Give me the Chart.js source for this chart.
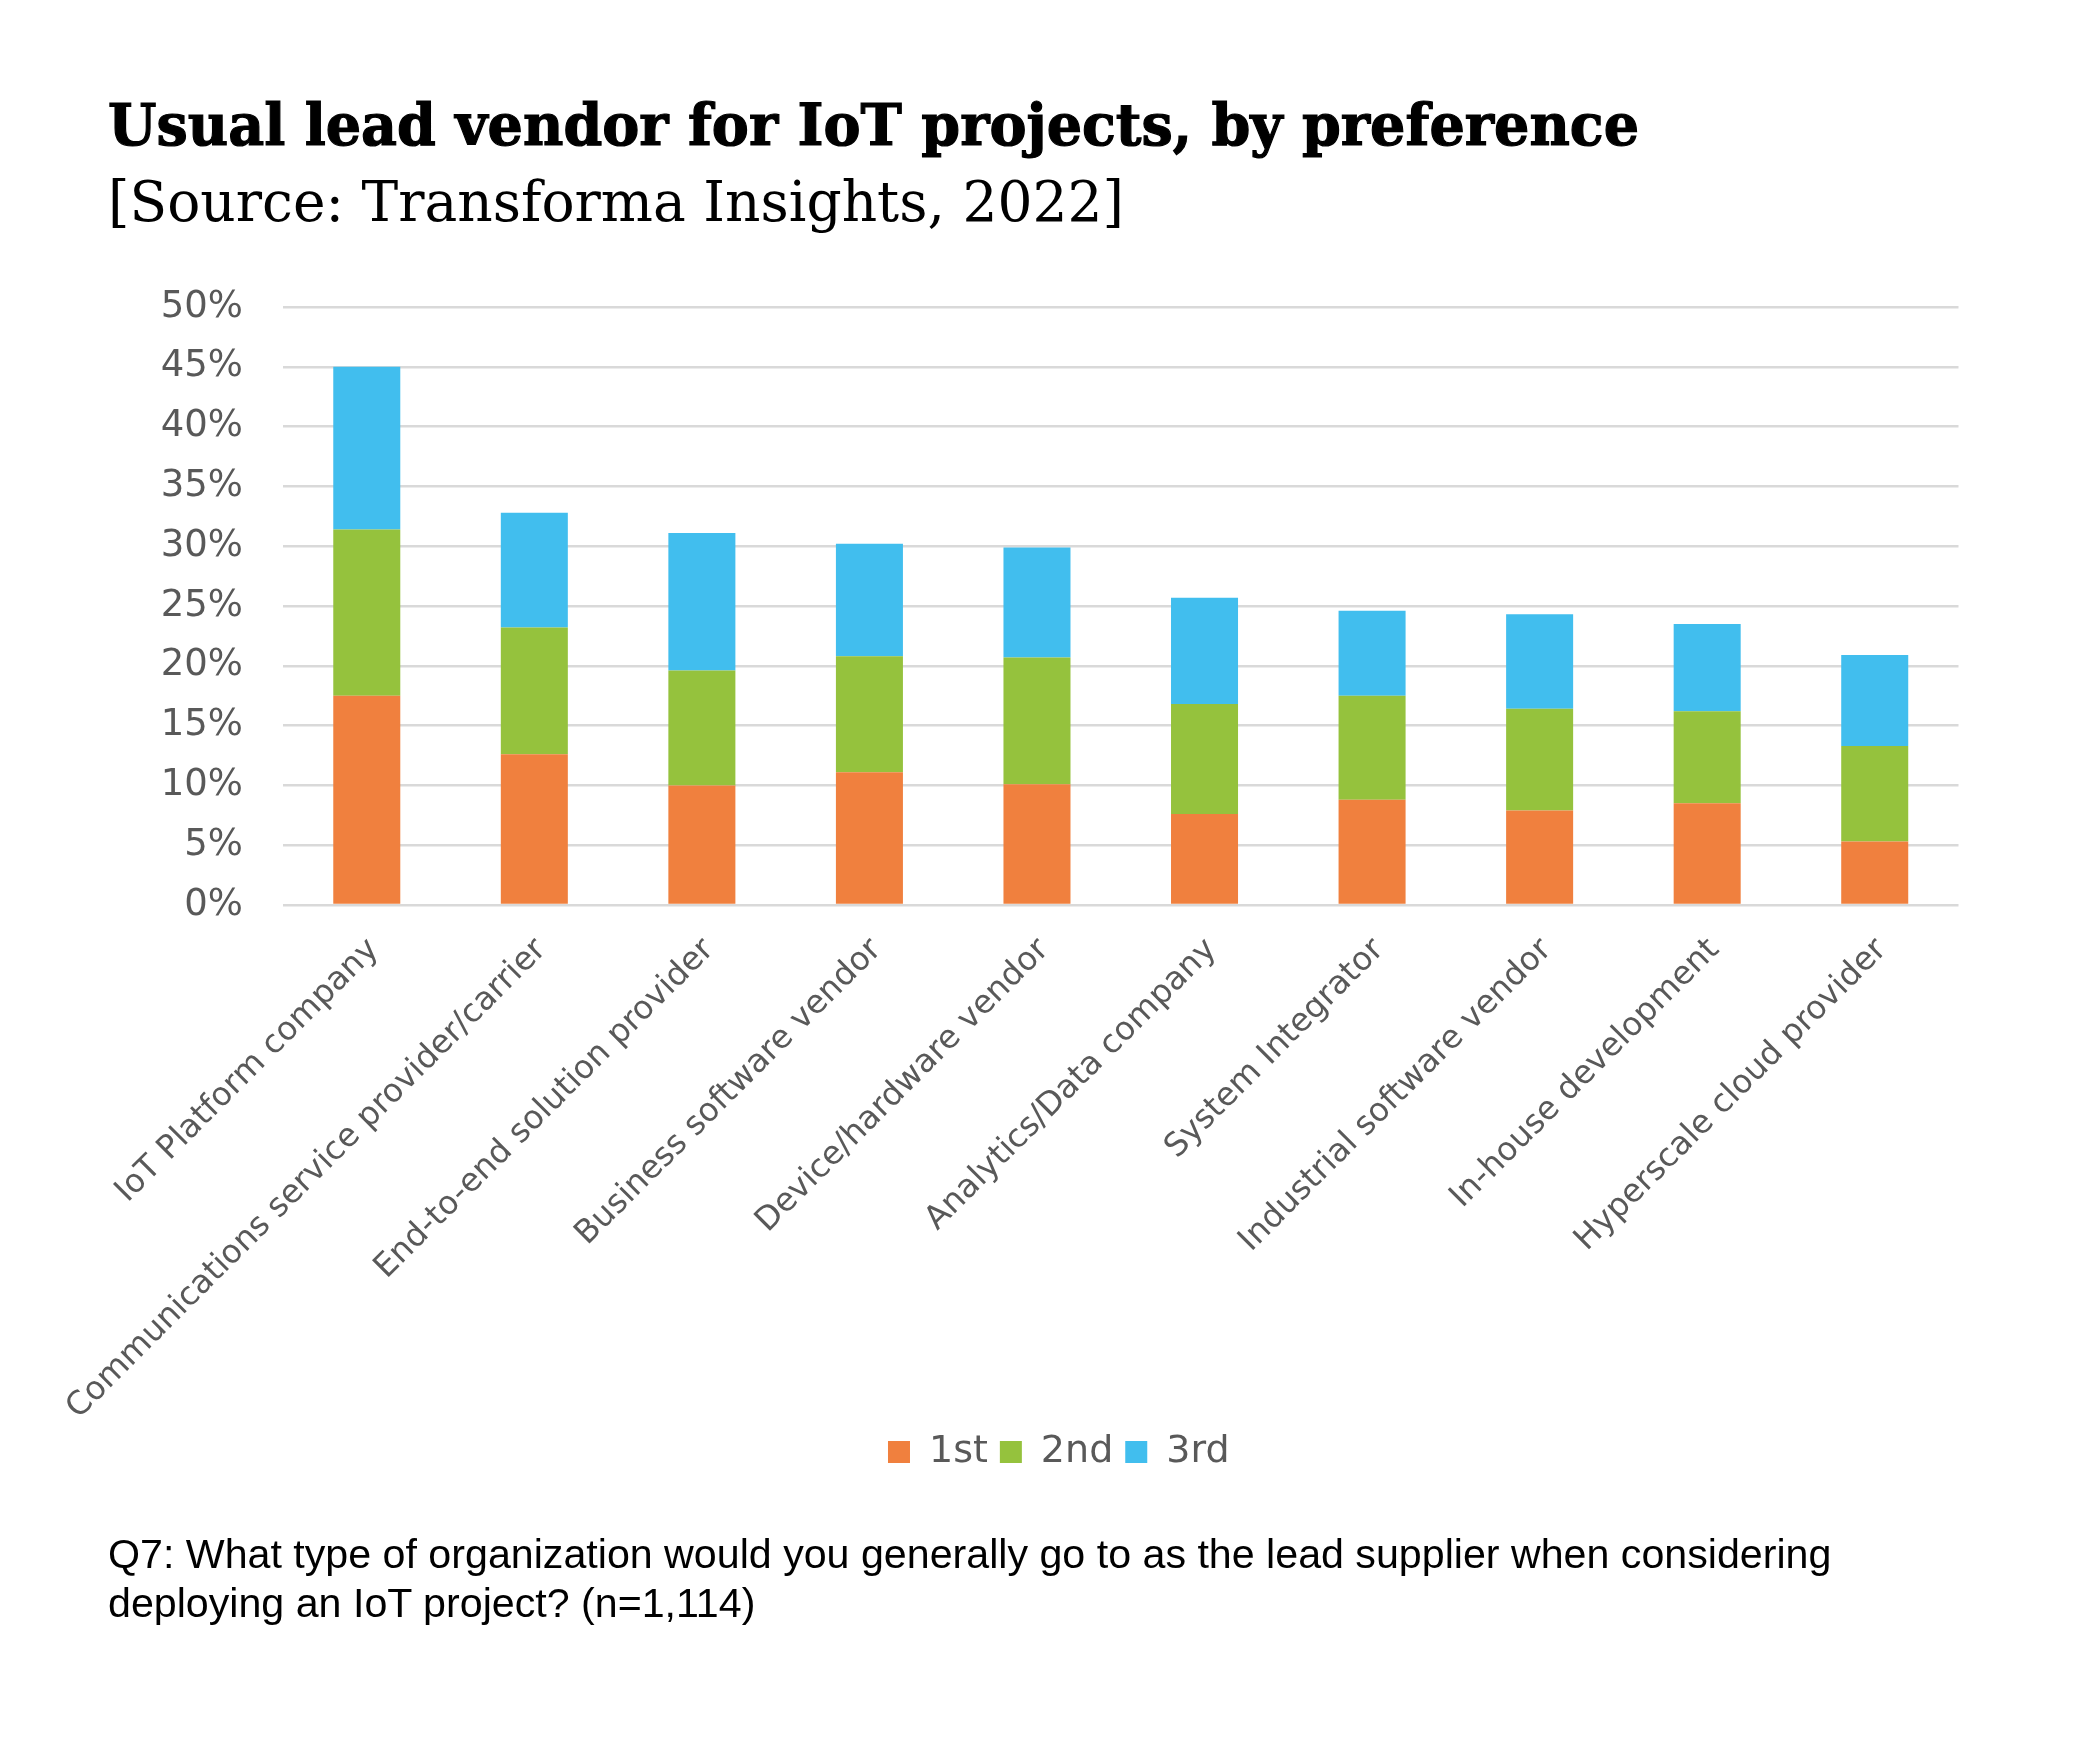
<!DOCTYPE html>
<html><head><meta charset="utf-8">
<script src="https://cdn.jsdelivr.net/npm/chart.js@4/dist/chart.umd.min.js"></script>
<style>
html,body{margin:0;padding:0;background:#fff;}
body{width:2076px;height:1738px;position:relative;overflow:hidden;}
#wrap{position:absolute;left:0;top:0;width:2076px;height:1738px;}
.txt{position:absolute;white-space:nowrap;transform-origin:0 0;display:inline-block;}
#title{left:108px;top:96px;font-family:"DejaVu Serif";font-weight:bold;font-size:58px;line-height:58px;color:#000;-webkit-text-stroke:1.2px #000;}
#subtitle{left:108px;top:174px;font-family:"DejaVu Serif";font-size:56px;line-height:56px;color:#000;}
.note{left:108px;font-family:"Liberation Sans",Arial;font-size:38px;line-height:49px;color:#000;}
#note1{top:1530px;}
#note2{top:1579px;}
</style></head><body>
<div id="wrap"><canvas id="c" width="2076" height="1738"></canvas></div>
<div class="txt" id="title">Usual lead vendor for IoT projects, by preference</div>
<div class="txt" id="subtitle">[Source: Transforma Insights, 2022]</div>
<div class="txt note" id="note1">Q7: What type of organization would you generally go to as the lead supplier when considering</div>
<div class="txt note" id="note2">deploying an IoT project? (n=1,114)</div>
<script>
const categories = ["IoT Platform company","Communications service provider/carrier","End-to-end solution provider","Business software vendor","Device/hardware vendor","Analytics/Data company","System Integrator","Industrial software vendor","In-house development","Hyperscale cloud provider"];
const seriesNames = ["1st","2nd","3rd"];
const first  = [17.5, 12.6, 10.0, 11.1, 10.1, 7.6, 8.8, 7.9, 8.5, 5.3];
const second = [13.9, 10.6,  9.6,  9.7, 10.6, 9.2, 8.7, 8.5, 7.7, 8.0];
const third  = [13.6,  9.6, 11.5,  9.4,  9.2, 8.9, 7.1, 7.9, 7.3, 7.6];
const yTickLabels = ["0%","5%","10%","15%","20%","25%","30%","35%","40%","45%","50%"];
const colors = ["#F0803E","#95C23D","#41BEEE"];

// fit text widths to the reference
function fitScale(id, target){
  const el=document.getElementById(id);
  const w=el.getBoundingClientRect().width;
  el.style.transform='scaleX('+(target/w)+')';
}
fitScale('title',1531);
fitScale('subtitle',1016);
(function(){
  const n1=document.getElementById('note1');
  const w=n1.getBoundingClientRect().width;
  const fs=38*1724/w;
  document.querySelectorAll('.note').forEach(e=>e.style.fontSize=fs+'px');
})();

const grey="#595959";
new Chart(document.getElementById('c'),{
  type:'bar',
  data:{
    labels:categories,
    datasets:[
      {label:seriesNames[0],data:first,backgroundColor:colors[0],borderWidth:0},
      {label:seriesNames[1],data:second,backgroundColor:colors[1],borderWidth:0},
      {label:seriesNames[2],data:third,backgroundColor:colors[2],borderWidth:0}
    ]
  },
  options:{
    responsive:false,
    devicePixelRatio:1,
    animation:false,
    barPercentage:0.4,
    categoryPercentage:1.0,
    layout:{padding:{left:159,right:117.5,top:307,bottom:257}},
    plugins:{
      tooltip:{enabled:false},
      legend:{
        position:'bottom',
        labels:{font:{family:"DejaVu Sans",size:38},color:grey,boxWidth:22,boxHeight:22,padding:12}
      }
    },
    scales:{
      x:{
        stacked:true,
        grid:{display:false,drawTicks:false},
        border:{display:false},
        ticks:{font:{family:"DejaVu Sans",size:32.5},color:grey,minRotation:45,maxRotation:45,autoSkip:false,padding:26,labelOffset:7},
        afterFit:(s)=>{s.height=516;}
      },
      y:{
        stacked:true,
        min:0,max:50,
        grid:{color:"#D9D9D9",lineWidth:2.5,drawTicks:false},
        border:{display:false},
        ticks:{stepSize:5,font:{family:"DejaVu Sans",size:37},color:grey,padding:40,
          callback:(v,i)=>yTickLabels[i]},
        afterFit:(s)=>{s.width=124;}
      }
    }
  }
});
</script>
</body></html>
